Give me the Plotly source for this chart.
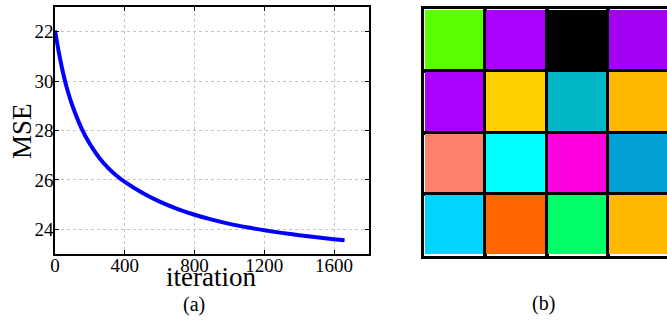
import plotly.graph_objects as go

# ---- data: panel (a) ----
iterations = [0, 25, 50, 75, 100, 150, 200, 250, 300, 350, 400, 500, 600, 700,
              800, 900, 1000, 1100, 1200, 1300, 1400, 1500, 1600, 1660]
mse = [32.05, 31.05, 30.22, 29.55, 29.0, 28.12, 27.45, 26.93, 26.52, 26.19,
       25.92, 25.48, 25.12, 24.83, 24.59, 24.39, 24.22, 24.08, 23.96, 23.855,
       23.76, 23.675, 23.6, 23.56]
y_tickvals = [32, 30, 28, 26, 24]
y_ticktext = ["22", "30", "28", "26", "24"]
x_tickvals = [0, 400, 800, 1200, 1600]

# ---- data: panel (b) ----
cell_colors = [
    ["#5aff00", "#aa00ff", "#000000", "#a200f2"],
    ["#aa00ff", "#ffd000", "#00b8c8", "#ffb800"],
    ["#ff7f6e", "#00ffff", "#ff00e0", "#00a0d2"],
    ["#00d4ff", "#ff6600", "#00ff66", "#ffb800"],
]

W, H = 667, 320
flat = [c for row in cell_colors for c in row]
n = len(flat)
z = [[r * 4 + c for c in range(4)] for r in range(4)]
colorscale = [[i / (n - 1), col] for i, col in enumerate(flat)]

fig = go.Figure()
fig.add_trace(go.Scatter(x=iterations, y=mse, mode="lines",
                         line=dict(color="#0000ff", width=4, shape="spline", smoothing=0.8),
                         xaxis="x", yaxis="y", showlegend=False, hoverinfo="skip"))
fig.add_trace(go.Heatmap(z=z, x=[0.5, 1.5, 2.5, 3.5], y=[0.5, 1.5, 2.5, 3.5], colorscale=colorscale,
                         zmin=0, zmax=n - 1, showscale=False, xgap=3, ygap=3,
                         xaxis="x2", yaxis="y2", hoverinfo="skip"))

SERIF = "Liberation Serif"
fig.update_layout(
    width=W, height=H, margin=dict(l=0, r=0, t=0, b=0, autoexpand=False),
    paper_bgcolor="white", plot_bgcolor="rgba(0,0,0,0)",
    font=dict(family=SERIF, color="black", size=19),
    xaxis=dict(domain=[55 / W, 369 / W], range=[0, 1800], tickvals=x_tickvals, automargin=False,
               anchor="y",
               showgrid=True, gridcolor="#c4c4c4", griddash="dot", gridwidth=1,
               showline=True, linecolor="black", linewidth=1.5, mirror="ticks",
               ticks="inside", ticklen=4, tickcolor="black", zeroline=False,
               ticklabelstandoff=-7,
               tickfont=dict(size=19, family=SERIF, color="black")),
    yaxis=dict(domain=[(H - 254) / H, (H - 7) / H], range=[23, 33], tickvals=y_tickvals,
               ticktext=y_ticktext, automargin=False, anchor="x",
               showgrid=True, gridcolor="#c4c4c4", griddash="dot", gridwidth=1,
               showline=True, linecolor="black", linewidth=1.5, mirror="ticks",
               ticks="inside", ticklen=4, tickcolor="black", zeroline=False,
               ticklabelstandoff=-4,
               tickfont=dict(size=19, family=SERIF, color="black")),
    xaxis2=dict(domain=[424 / W, 1], range=[0, 3.96], showgrid=True, tickvals=[0, 1, 2, 3, 4],
                anchor="y2",
                gridcolor="black", gridwidth=4, showticklabels=False, ticks="", automargin=False,
                showline=True, linecolor="black", linewidth=3, mirror=True, zeroline=False),
    yaxis2=dict(domain=[(H - 256) / H, (H - 9) / H], range=[4, 0], showgrid=True,
                anchor="x2",
                tickvals=[0, 1, 2, 3, 4], gridcolor="black", gridwidth=4, automargin=False,
                showticklabels=False, ticks="", showline=True, linecolor="black",
                linewidth=3, mirror=True, zeroline=False),
    annotations=[
        dict(text="iteration", x=211 / W, y=(H - 277) / H, xref="paper", yref="paper",
             xanchor="center", yanchor="middle",
             showarrow=False, font=dict(size=27, family=SERIF)),
        dict(text="MSE", x=22 / W, y=(H - 131) / H, xref="paper", yref="paper", textangle=-90,
             xanchor="center", yanchor="middle",
             showarrow=False, font=dict(size=27, family=SERIF)),
        dict(text="(a)", x=194 / W, y=(H - 304) / H, xref="paper", yref="paper",
             xanchor="center", yanchor="middle",
             showarrow=False, font=dict(size=20, family=SERIF)),
        dict(text="(b)", x=543 / W, y=(H - 303) / H, xref="paper", yref="paper",
             xanchor="center", yanchor="middle",
             showarrow=False, font=dict(size=20, family=SERIF)),
    ],
)
fig.write_html("out.html", config={"displayModeBar": False},
               post_script="document.body.style.margin='0px';document.body.style.overflow='hidden';")
